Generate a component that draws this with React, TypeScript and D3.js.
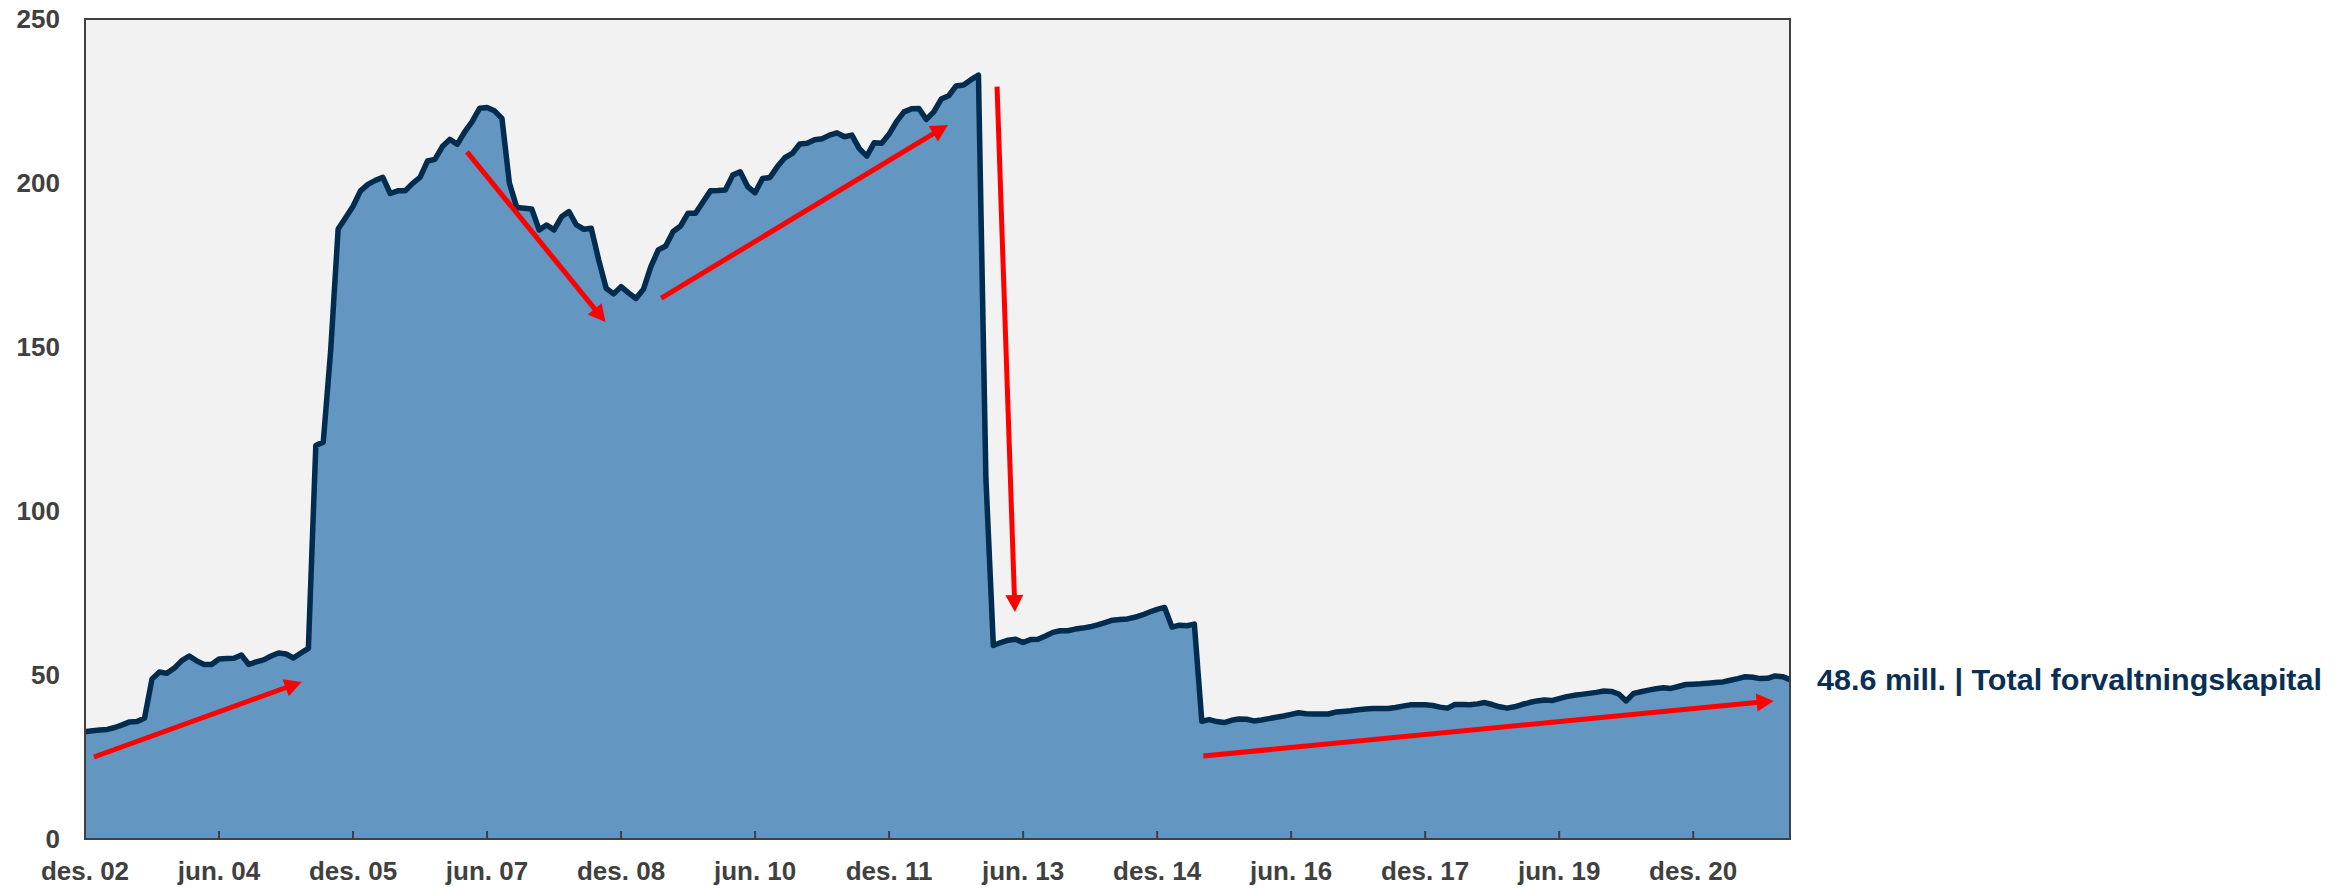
import * as d3 from 'd3';
import { useEffect, useRef } from 'react';

// monthly total assets (mill.), des. 02 .. jan. 22
const values = [
  32.7, 33.0, 33.2, 33.4, 34.0, 34.8, 35.7, 35.8, 36.9, 48.8,
  50.9, 50.5, 52.1, 54.4, 55.8, 54.3, 53.2, 53.2, 54.9, 55.0,
  55.1, 56.1, 53.2, 54.0, 54.6, 55.8, 56.7, 56.4, 55.2, 56.7,
  58.1, 120.0, 121.0, 149.0, 186.0, 189.4, 192.9, 197.6, 199.6, 200.8,
  201.7, 196.8, 197.6, 197.6, 199.9, 201.7, 206.7, 207.2, 211.1, 213.3,
  211.8, 215.6, 218.7, 222.8, 223.0, 222.0, 219.7, 200.0, 192.5, 192.3,
  192.1, 185.7, 187.2, 185.7, 189.7, 191.3, 187.2, 185.9, 186.2, 176.5,
  167.9, 166.2, 168.4, 166.5, 164.8, 167.6, 174.5, 179.6, 180.8, 185.2,
  186.9, 190.8, 190.8, 194.2, 197.6, 197.7, 197.9, 202.4, 203.4, 198.9,
  197.0, 201.4, 201.7, 205.0, 207.7, 209.0, 211.9, 212.1, 213.2, 213.5,
  214.6, 215.3, 214.1, 214.6, 210.5, 208.2, 212.3, 212.1, 214.9, 218.7,
  221.7, 222.6, 222.7, 219.4, 221.7, 225.6, 226.6, 229.6, 229.9, 231.5,
  232.9, 110.0, 59.0, 59.9, 60.6, 60.9, 59.9, 60.8, 60.9, 61.9,
  63.0, 63.5, 63.5, 64.0, 64.3, 64.7, 65.3, 66.0, 66.7, 66.9,
  67.1, 67.6, 68.3, 69.2, 70.0, 70.6, 64.6, 65.2, 65.0, 65.5,
  35.9, 36.4, 35.8, 35.5, 36.2, 36.6, 36.5, 36.0, 36.3, 36.7,
  37.1, 37.5, 38.0, 38.5, 38.2, 38.1, 38.1, 38.1, 38.7, 38.9,
  39.1, 39.4, 39.6, 39.8, 39.8, 39.8, 40.1, 40.5, 40.9, 40.9,
  40.9, 40.7, 40.2, 39.9, 41.0, 41.0, 40.9, 41.2, 41.6, 41.0,
  40.3, 39.9, 40.3, 41.0, 41.6, 42.1, 42.4, 42.2, 42.8, 43.4,
  43.8, 44.1, 44.4, 44.7, 45.1, 45.0, 44.2, 42.1, 44.4, 44.9,
  45.4, 45.8, 46.1, 45.9, 46.5, 47.1, 47.2, 47.3, 47.5, 47.7,
  47.9, 48.4, 48.9, 49.5, 49.3, 48.9, 49.0, 49.7, 49.5, 48.6,
];

const tickLabels = [
  'des. 02', 'jun. 04', 'des. 05', 'jun. 07', 'des. 08', 'jun. 10', 'des. 11',
  'jun. 13', 'des. 14', 'jun. 16', 'des. 17', 'jun. 19', 'des. 20',
];
const tickStep = 18; // months between labels

const yTicks = [0, 50, 100, 150, 200, 250];

// trend arrows: [month, value] -> [month, value]
const arrows = [
  { from: [1.2, 25.0], to: [29.1, 47.9] },
  { from: [51.3, 209.5], to: [69.9, 157.6] },
  { from: [77.4, 164.9], to: [115.9, 217.7] },
  { from: [122.5, 229.4], to: [124.9, 69.2] },
  { from: [150.2, 25.3], to: [226.8, 42.1] },
];

const endLabel = '48.6 mill. | Total forvaltningskapital';

export default function App() {
  const ref = useRef<SVGSVGElement>(null);

  useEffect(() => {
    document.body.style.margin = '0';
    document.body.style.overflow = 'hidden';
    if (!ref.current) return;

    const svg = d3.select(ref.current);
    svg.selectAll('*').remove();

    const margin = { top: 19, right: 559, bottom: 49, left: 85 };
    const W = 2349;
    const H = 888;

    const x = d3.scaleLinear()
      .domain([0, values.length - 1])
      .range([margin.left, W - margin.right]);
    const y = d3.scaleLinear()
      .domain([0, 250])
      .range([H - margin.bottom, margin.top]);

    // plot background
    svg.append('rect')
      .attr('x', x(0))
      .attr('y', y(250))
      .attr('width', x(values.length - 1) - x(0))
      .attr('height', y(0) - y(250))
      .attr('fill', '#f2f2f2');

    const area = d3.area<number>()
      .x((d, i) => x(i))
      .y0(y(0))
      .y1(d => y(d));

    const line = d3.line<number>()
      .x((d, i) => x(i))
      .y(d => y(d));

    svg.append('path')
      .datum(values)
      .attr('d', area)
      .attr('fill', '#6396c1');

    svg.append('path')
      .datum(values)
      .attr('d', line)
      .attr('fill', 'none')
      .attr('stroke', '#002c50')
      .attr('stroke-width', 5.5)
      .attr('stroke-linejoin', 'round');

    // frame
    svg.append('rect')
      .attr('x', x(0))
      .attr('y', y(250))
      .attr('width', x(values.length - 1) - x(0))
      .attr('height', y(0) - y(250))
      .attr('fill', 'none')
      .attr('stroke', '#404040')
      .attr('stroke-width', 2);

    // x ticks (pointing inward)
    const xt = svg.append('g');
    tickLabels.forEach((lab, i) => {
      const px = x(i * tickStep);
      xt.append('line')
        .attr('x1', px).attr('x2', px)
        .attr('y1', y(0)).attr('y2', y(0) - 8)
        .attr('stroke', '#404040')
        .attr('stroke-width', 2);
      xt.append('text')
        .attr('x', px)
        .attr('y', y(0) + 41)
        .attr('text-anchor', 'middle')
        .attr('fill', '#404040')
        .attr('font-size', 26)
        .attr('font-weight', 'bold')
        .text(lab);
    });

    // y labels
    svg.append('g')
      .selectAll('text')
      .data(yTicks).enter()
        .append('text')
        .attr('x', margin.left - 25)
        .attr('y', d => y(d))
        .attr('dy', '0.35em')
        .attr('text-anchor', 'end')
        .attr('fill', '#404040')
        .attr('font-size', 26)
        .attr('font-weight', 'bold')
        .text(d => d);

    // red arrows
    const ag = svg.append('g');
    const headLen = 17;
    const headW = 18;
    arrows.forEach(a => {
      const x1 = x(a.from[0]), y1 = y(a.from[1]);
      const x2 = x(a.to[0]), y2 = y(a.to[1]);
      const dx = x2 - x1, dy = y2 - y1;
      const len = Math.sqrt(dx * dx + dy * dy);
      const ux = dx / len, uy = dy / len;
      const bx = x2 - ux * headLen, by = y2 - uy * headLen;
      ag.append('line')
        .attr('x1', x1).attr('y1', y1)
        .attr('x2', bx + ux * 2).attr('y2', by + uy * 2)
        .attr('stroke', '#ff0000')
        .attr('stroke-width', 5);
      ag.append('path')
        .attr('d', `M${x2},${y2}L${bx - uy * headW / 2},${by + ux * headW / 2}L${bx + uy * headW / 2},${by - ux * headW / 2}Z`)
        .attr('fill', '#ff0000');
    });

    // end label
    const last = values[values.length - 1];
    svg.append('text')
      .attr('x', x(values.length - 1) + 27)
      .attr('y', y(last))
      .attr('dy', '0.35em')
      .attr('fill', '#0b2f54')
      .attr('font-size', 29)
      .attr('font-weight', 'bold')
      .attr('textLength', 505)
      .attr('lengthAdjust', 'spacingAndGlyphs')
      .text(endLabel);
  }, []);

  return (
    <svg
      ref={ref}
      width={2349}
      height={888}
      style={{ position: 'absolute', left: 0, top: 0, fontFamily: '"Liberation Sans", Arial, sans-serif', background: '#ffffff' }}
    />
  );
}
